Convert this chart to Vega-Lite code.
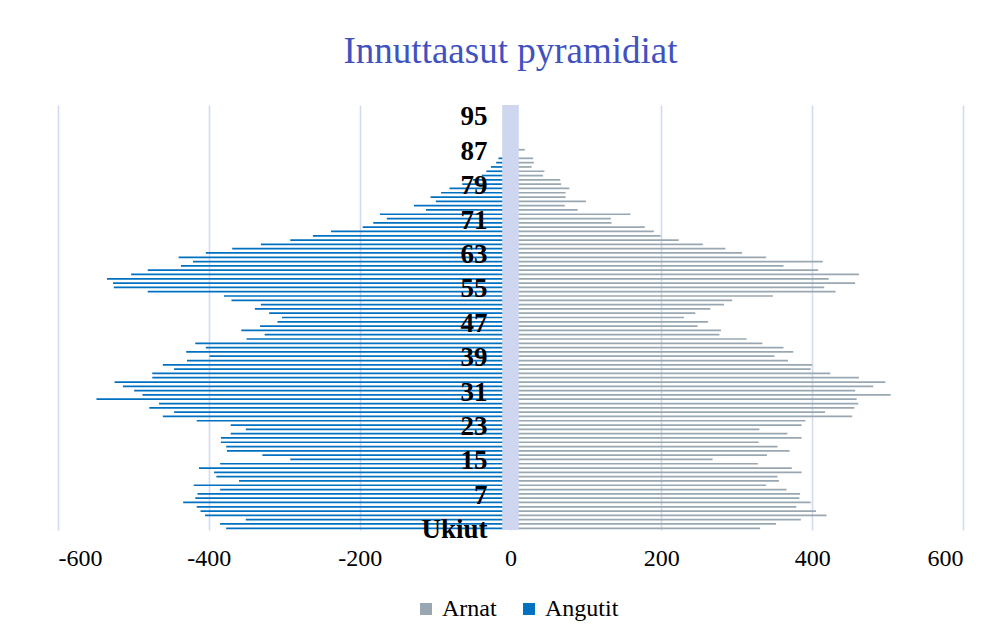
{
"$schema": "https://vega.github.io/schema/vega-lite/v6.json",
"width": 905, "height": 425,
"autosize": "none",
"padding": {"left": 58, "top": 105, "right": 37, "bottom": 111},
"background": "white",
"title": {"text": "Innuttaasut pyramidiat", "font": "Liberation Serif", "fontSize": 37, "fontWeight": "normal", "color": "#4152BF", "offset": 32, "anchor": "middle"},
"config": {"view": {"stroke": null}},
"datasets": {
"band": [{"lo": -11, "hi": 11}],
"pop": [
{"i":0,"sex":"Arnat","v":331},{"i":1,"sex":"Arnat","v":352},{"i":2,"sex":"Arnat","v":385},{"i":3,"sex":"Arnat","v":419},{"i":4,"sex":"Arnat","v":405},{"i":5,"sex":"Arnat","v":379},{"i":6,"sex":"Arnat","v":398},{"i":7,"sex":"Arnat","v":383},{"i":8,"sex":"Arnat","v":384},{"i":9,"sex":"Arnat","v":366},
{"i":10,"sex":"Arnat","v":339},{"i":11,"sex":"Arnat","v":356},{"i":12,"sex":"Arnat","v":354},{"i":13,"sex":"Arnat","v":386},{"i":14,"sex":"Arnat","v":373},{"i":15,"sex":"Arnat","v":328},{"i":16,"sex":"Arnat","v":268},{"i":17,"sex":"Arnat","v":340},{"i":18,"sex":"Arnat","v":370},{"i":19,"sex":"Arnat","v":354},
{"i":20,"sex":"Arnat","v":329},{"i":21,"sex":"Arnat","v":386},{"i":22,"sex":"Arnat","v":367},{"i":23,"sex":"Arnat","v":330},{"i":24,"sex":"Arnat","v":386},{"i":25,"sex":"Arnat","v":391},{"i":26,"sex":"Arnat","v":453},{"i":27,"sex":"Arnat","v":417},{"i":28,"sex":"Arnat","v":456},{"i":29,"sex":"Arnat","v":461},
{"i":30,"sex":"Arnat","v":459},{"i":31,"sex":"Arnat","v":504},{"i":32,"sex":"Arnat","v":457},{"i":33,"sex":"Arnat","v":481},{"i":34,"sex":"Arnat","v":497},{"i":35,"sex":"Arnat","v":462},{"i":36,"sex":"Arnat","v":424},{"i":37,"sex":"Arnat","v":398},{"i":38,"sex":"Arnat","v":400},{"i":39,"sex":"Arnat","v":368},
{"i":40,"sex":"Arnat","v":350},{"i":41,"sex":"Arnat","v":375},{"i":42,"sex":"Arnat","v":362},{"i":43,"sex":"Arnat","v":334},{"i":44,"sex":"Arnat","v":313},{"i":45,"sex":"Arnat","v":277},{"i":46,"sex":"Arnat","v":279},{"i":47,"sex":"Arnat","v":248},{"i":48,"sex":"Arnat","v":262},{"i":49,"sex":"Arnat","v":230},
{"i":50,"sex":"Arnat","v":245},{"i":51,"sex":"Arnat","v":265},{"i":52,"sex":"Arnat","v":283},{"i":53,"sex":"Arnat","v":294},{"i":54,"sex":"Arnat","v":348},{"i":55,"sex":"Arnat","v":431},{"i":56,"sex":"Arnat","v":416},{"i":57,"sex":"Arnat","v":457},{"i":58,"sex":"Arnat","v":422},{"i":59,"sex":"Arnat","v":462},
{"i":60,"sex":"Arnat","v":408},{"i":61,"sex":"Arnat","v":362},{"i":62,"sex":"Arnat","v":414},{"i":63,"sex":"Arnat","v":339},{"i":64,"sex":"Arnat","v":307},{"i":65,"sex":"Arnat","v":285},{"i":66,"sex":"Arnat","v":255},{"i":67,"sex":"Arnat","v":223},{"i":68,"sex":"Arnat","v":199},{"i":69,"sex":"Arnat","v":190},
{"i":70,"sex":"Arnat","v":178},{"i":71,"sex":"Arnat","v":134},{"i":72,"sex":"Arnat","v":133},{"i":73,"sex":"Arnat","v":159},{"i":74,"sex":"Arnat","v":89},{"i":75,"sex":"Arnat","v":72},{"i":76,"sex":"Arnat","v":100},{"i":77,"sex":"Arnat","v":73},{"i":78,"sex":"Arnat","v":73},{"i":79,"sex":"Arnat","v":78},
{"i":80,"sex":"Arnat","v":67},{"i":81,"sex":"Arnat","v":66},{"i":82,"sex":"Arnat","v":43},{"i":83,"sex":"Arnat","v":45},{"i":84,"sex":"Arnat","v":28},{"i":85,"sex":"Arnat","v":31},{"i":86,"sex":"Arnat","v":30},{"i":87,"sex":"Arnat","v":9},{"i":88,"sex":"Arnat","v":19},{"i":89,"sex":"Arnat","v":7},
{"i":90,"sex":"Arnat","v":6},{"i":91,"sex":"Arnat","v":4},{"i":92,"sex":"Arnat","v":3},{"i":93,"sex":"Arnat","v":2},{"i":94,"sex":"Arnat","v":1},{"i":95,"sex":"Arnat","v":1},{"i":96,"sex":"Arnat","v":0},{"i":97,"sex":"Arnat","v":0},{"i":98,"sex":"Arnat","v":0},
{"i":0,"sex":"Angutit","v":-377},{"i":1,"sex":"Angutit","v":-385},{"i":2,"sex":"Angutit","v":-351},{"i":3,"sex":"Angutit","v":-405},{"i":4,"sex":"Angutit","v":-411},{"i":5,"sex":"Angutit","v":-416},{"i":6,"sex":"Angutit","v":-434},{"i":7,"sex":"Angutit","v":-418},{"i":8,"sex":"Angutit","v":-415},{"i":9,"sex":"Angutit","v":-385},
{"i":10,"sex":"Angutit","v":-420},{"i":11,"sex":"Angutit","v":-360},{"i":12,"sex":"Angutit","v":-390},{"i":13,"sex":"Angutit","v":-393},{"i":14,"sex":"Angutit","v":-413},{"i":15,"sex":"Angutit","v":-385},{"i":16,"sex":"Angutit","v":-292},{"i":17,"sex":"Angutit","v":-329},{"i":18,"sex":"Angutit","v":-376},{"i":19,"sex":"Angutit","v":-377},
{"i":20,"sex":"Angutit","v":-384},{"i":21,"sex":"Angutit","v":-384},{"i":22,"sex":"Angutit","v":-371},{"i":23,"sex":"Angutit","v":-351},{"i":24,"sex":"Angutit","v":-371},{"i":25,"sex":"Angutit","v":-416},{"i":26,"sex":"Angutit","v":-461},{"i":27,"sex":"Angutit","v":-446},{"i":28,"sex":"Angutit","v":-479},{"i":29,"sex":"Angutit","v":-466},
{"i":30,"sex":"Angutit","v":-549},{"i":31,"sex":"Angutit","v":-488},{"i":32,"sex":"Angutit","v":-499},{"i":33,"sex":"Angutit","v":-514},{"i":34,"sex":"Angutit","v":-525},{"i":35,"sex":"Angutit","v":-475},{"i":36,"sex":"Angutit","v":-475},{"i":37,"sex":"Angutit","v":-446},{"i":38,"sex":"Angutit","v":-461},{"i":39,"sex":"Angutit","v":-429},
{"i":40,"sex":"Angutit","v":-399},{"i":41,"sex":"Angutit","v":-430},{"i":42,"sex":"Angutit","v":-404},{"i":43,"sex":"Angutit","v":-418},{"i":44,"sex":"Angutit","v":-350},{"i":45,"sex":"Angutit","v":-326},{"i":46,"sex":"Angutit","v":-357},{"i":47,"sex":"Angutit","v":-332},{"i":48,"sex":"Angutit","v":-309},{"i":49,"sex":"Angutit","v":-303},
{"i":50,"sex":"Angutit","v":-320},{"i":51,"sex":"Angutit","v":-339},{"i":52,"sex":"Angutit","v":-331},{"i":53,"sex":"Angutit","v":-370},{"i":54,"sex":"Angutit","v":-380},{"i":55,"sex":"Angutit","v":-481},{"i":56,"sex":"Angutit","v":-526},{"i":57,"sex":"Angutit","v":-527},{"i":58,"sex":"Angutit","v":-535},{"i":59,"sex":"Angutit","v":-503},
{"i":60,"sex":"Angutit","v":-481},{"i":61,"sex":"Angutit","v":-437},{"i":62,"sex":"Angutit","v":-421},{"i":63,"sex":"Angutit","v":-440},{"i":64,"sex":"Angutit","v":-404},{"i":65,"sex":"Angutit","v":-369},{"i":66,"sex":"Angutit","v":-331},{"i":67,"sex":"Angutit","v":-292},{"i":68,"sex":"Angutit","v":-262},{"i":69,"sex":"Angutit","v":-238},
{"i":70,"sex":"Angutit","v":-196},{"i":71,"sex":"Angutit","v":-182},{"i":72,"sex":"Angutit","v":-164},{"i":73,"sex":"Angutit","v":-173},{"i":74,"sex":"Angutit","v":-112},{"i":75,"sex":"Angutit","v":-128},{"i":76,"sex":"Angutit","v":-99},{"i":77,"sex":"Angutit","v":-106},{"i":78,"sex":"Angutit","v":-92},{"i":79,"sex":"Angutit","v":-81},
{"i":80,"sex":"Angutit","v":-64},{"i":81,"sex":"Angutit","v":-50},{"i":82,"sex":"Angutit","v":-38},{"i":83,"sex":"Angutit","v":-32},{"i":84,"sex":"Angutit","v":-26},{"i":85,"sex":"Angutit","v":-19},{"i":86,"sex":"Angutit","v":-16},{"i":87,"sex":"Angutit","v":-9},{"i":88,"sex":"Angutit","v":-8},{"i":89,"sex":"Angutit","v":-6},
{"i":90,"sex":"Angutit","v":-5},{"i":91,"sex":"Angutit","v":-4},{"i":92,"sex":"Angutit","v":-3},{"i":93,"sex":"Angutit","v":-2},{"i":94,"sex":"Angutit","v":-1},{"i":95,"sex":"Angutit","v":-1},{"i":96,"sex":"Angutit","v":0},{"i":97,"sex":"Angutit","v":0},{"i":98,"sex":"Angutit","v":0}
]
},
"layer": [
{
"data": {"name": "pop"},
"mark": {"type": "bar"},
"encoding": {
"y": {"field": "i", "type": "ordinal", "sort": "descending",
"scale": {"paddingInner": 0.6, "paddingOuter": 0.2},
"axis": {"title": null, "values": [0,8,16,24,32,40,48,56,64,72,80,88,96],
"labelExpr": "datum.value == 0 ? 'Ukiut' : toString(datum.value - 1)",
"offset": -431, "domain": false, "ticks": false, "grid": false, "labelPadding": 2,
"labelFont": "Liberation Serif", "labelFontSize": 27, "labelFontWeight": "bold", "labelColor": "#000000", "labelBaseline": "middle", "labelOffset": 2, "zindex": 1}},
"x": {"field": "v", "type": "quantitative", "stack": null,
"scale": {"domain": [-600, 600]},
"axis": {"title": null, "values": [-600,-400,-200,0,200,400,600], "labelExpr": "'' + datum.value",
"grid": true, "gridColor": "#D3DAF1", "gridWidth": 1.6, "domain": false, "ticks": false, "labelPadding": 16,
"labelFont": "Liberation Serif", "labelFontSize": 24, "labelColor": "#000000"}},
"color": {"field": "sex", "type": "nominal",
"scale": {"domain": ["Arnat", "Angutit"], "range": ["#98A7B1", "#0070C0"]},
"legend": {"title": null, "orient": "none", "legendX": 356, "legendY": 492, "direction": "horizontal",
"symbolType": "square", "symbolSize": 144, "symbolStrokeWidth": 0, "labelFont": "Liberation Serif", "labelFontSize": 24, "labelColor": "#000000", "labelOffset": 4, "columnPadding": 20}}
}
},
{
"data": {"name": "band"},
"mark": {"type": "rect", "color": "#CFD7F0"},
"encoding": {"x": {"field": "lo", "type": "quantitative"}, "x2": {"field": "hi"}}
}
]
}
